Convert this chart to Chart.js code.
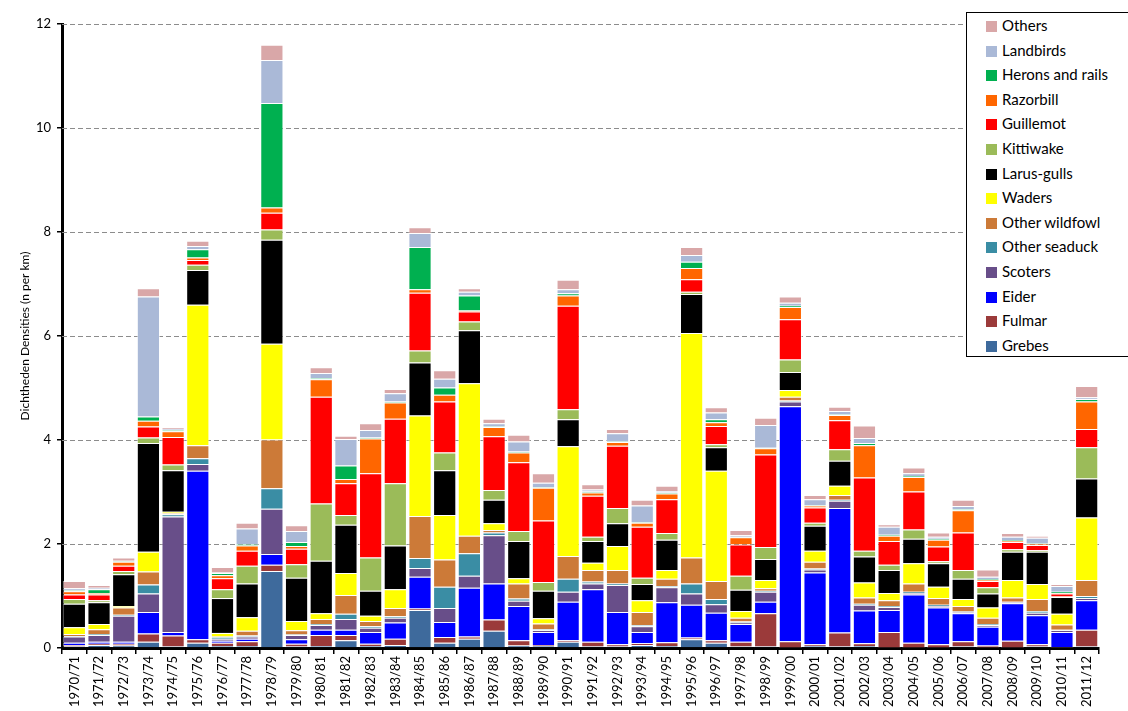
<!DOCTYPE html>
<html>
<head>
<meta charset="utf-8">
<script src="https://cdn.jsdelivr.net/npm/chart.js@4/dist/chart.umd.min.js"></script>
<style>
  html, body { margin: 0; padding: 0; background: #fff; }
  #wrap { position: relative; width: 1128px; height: 711px; }
  #legend {
    position: absolute; left: 966px; top: 12px; width: 162px; height: 345px;
    box-sizing: border-box; border: 1px solid #000; border-right: none; background: #fff;
    font-family: Lato, "Open Sans", sans-serif; font-size: 15px; color: #000;
    padding-top: 0;
  }
  #legend div { height: 24.6px; line-height: 24.6px; white-space: nowrap; }
  #legend span {
    display: inline-block; width: 11px; height: 11px; margin: 0 5px 0 19px; vertical-align: -1px;
  }
</style>
</head>
<body>
<div id="wrap">
  <canvas id="chart" width="1128" height="711"></canvas>
  <div id="legend"></div>
</div>
<script>
const seasons = ["1970/71","1971/72","1972/73","1973/74","1974/75","1975/76","1976/77","1977/78","1978/79","1979/80",
  "1980/81","1981/82","1982/83","1983/84","1984/85","1985/86","1986/87","1987/88","1988/89","1989/90",
  "1990/91","1991/92","1992/93","1993/94","1994/95","1995/96","1996/97","1997/98","1998/99","1999/00",
  "2000/01","2001/02","2002/03","2003/04","2004/05","2005/06","2006/07","2007/08","2008/09","2009/10",
  "2010/11","2011/12"];

// densities (n per km) per species group, one value per season
const grebes = [.03,.06,.05,.12,.03,.10,.04,.04,1.48,.03, .04,.15,.04,.06,.73,.10,.18,.33,.05,.04,
  .12,.03,.03,.06,.04,.17,.10,.03,.03,.01, .04,.03,.04,.01,.01,.01,.03,.01,.01,.03, .01,.03];
const fulmar = [.03,.02,.03,.16,.21,.07,.06,.09,.12,.05, .21,.10,.04,.12,.03,.11,.04,.22,.10,.02,
  .03,.09,.04,.03,.07,.03,.05,.09,.64,.12, .03,.27,.05,.30,.09,.06,.10,.04,.13,.04, .01,.32];
const eider = [.04,.04,.04,.41,.07,3.24,.04,.05,.21,.09, .10,.10,.23,.31,.61,.29,.94,.69,.66,.25,
  .74,1.01,.62,.22,.77,.63,.53,.34,.22,4.52, 1.38,2.39,.63,.42,.93,.71,.54,.36,.72,.56, .29,.57];
const scoters = [.12,.13,.50,.36,2.22,.13,.04,.04,.87,.08, .09,.21,.08,.09,.17,.27,.23,.93,.10,.03,
  .19,.11,.52,.11,.29,.22,.16,.03,.19,.09, .06,.14,.11,.06,.03,.03,.02,.03,.02,.05, .03,.04];
const otherSeaduck = [.01,.02,.02,.17,.04,.11,.03,.02,.39,.01, .02,.10,.03,.03,.19,.41,.43,.05,.04,.02,
  .25,.04,.03,.02,.02,.19,.10,.02,.02,.02, .02,.02,.02,.02,.02,.02,.01,.02,.01,.03, .01,.04];
const otherWildfowl = [.04,.09,.14,.25,.02,.25,.01,.09,.94,.08, .10,.36,.10,.16,.81,.52,.34,.05,.29,.11,
  .44,.22,.26,.25,.14,.50,.35,.07,.05,.07, .13,.09,.12,.11,.16,.13,.11,.12,.08,.23, .10,.31];
const waders = [.13,.10,.03,.38,.03,2.70,.07,.26,1.84,.18, .11,.42,.10,.36,1.93,.86,2.93,.13,.10,.10,
  2.11,.14,.46,.23,.17,4.32,2.12,.13,.16,.13, .21,.18,.29,.14,.39,.22,.13,.20,.34,.29, .21,1.20];
const larusGulls = [.45,.42,.61,2.09,.80,.67,.67,.65,2.00,.83, 1.01,.93,.48,.84,1.02,.86,1.02,.45,.72,.53,
  .52,.42,.44,.31,.58,.75,.45,.41,.40,.35, .48,.48,.50,.44,.47,.45,.39,.27,.54,.62, .32,.75];
const kittiwake = [.09,.04,.06,.11,.11,.10,.17,.34,.20,.26, 1.10,.19,.64,1.20,.23,.34,.17,.19,.19,.17,
  .19,.08,.29,.12,.13,.04,.06,.27,.23,.24, .06,.22,.11,.10,.18,.04,.17,.12,.05,.03, .01,.60];
const guillemot = [.09,.11,.10,.21,.53,.09,.21,.29,.32,.30, 2.05,.61,1.62,1.24,1.11,.98,.19,1.03,1.32,1.18,
  1.99,.79,1.20,.98,.65,.24,.35,.60,1.78,.77, .29,.56,1.41,.46,.73,.28,.72,.12,.14,.10, .06,.35];
const razorbill = [.06,.03,.08,.11,.11,.05,.06,.10,.10,.05, .34,.08,.67,.31,.07,.13,.02,.18,.19,.63,
  .20,.06,.07,.08,.11,.22,.07,.14,.12,.24, .04,.10,.62,.10,.28,.13,.43,.02,.02,.02, .01,.53];
const heronsRails = [.02,.07,.01,.08,.02,.16,.04,.03,2.01,.08, .02,.26,.02,.02,.81,.14,.29,.01,.02,.01,
  .04,.02,.01,.01,.02,.12,.06,.01,.01,.02, .01,.01,.04,.02,.02,.02,.02,.01,.01,.01, .02,.05];
const landbirds = [.04,.03,.01,2.31,.02,.06,.01,.30,.83,.21, .10,.51,.14,.16,.27,.17,.07,.06,.19,.09,
  .08,.04,.16,.32,.03,.13,.13,.03,.44,.06, .11,.07,.10,.15,.05,.04,.06,.05,.07,.11, .11,.03];
const others = [.14,.05,.06,.16,.03,.10,.11,.11,.29,.11, .11,.06,.13,.08,.11,.16,.07,.09,.13,.18,
  .18,.10,.08,.11,.10,.15,.10,.10,.14,.12, .08,.08,.24,.05,.11,.08,.12,.14,.07,.04, .04,.22];

const yTicks = [0, 2, 4, 6, 8, 10, 12];

const series = [
  { label: "Grebes", data: grebes, color: "#3E6A9C" },
  { label: "Fulmar", data: fulmar, color: "#9B3A3A" },
  { label: "Eider", data: eider, color: "#0000FF" },
  { label: "Scoters", data: scoters, color: "#684E89" },
  { label: "Other seaduck", data: otherSeaduck, color: "#3A8DA4" },
  { label: "Other wildfowl", data: otherWildfowl, color: "#CC7A38" },
  { label: "Waders", data: waders, color: "#FFFF00" },
  { label: "Larus-gulls", data: larusGulls, color: "#000000" },
  { label: "Kittiwake", data: kittiwake, color: "#9BBB59" },
  { label: "Guillemot", data: guillemot, color: "#FF0000" },
  { label: "Razorbill", data: razorbill, color: "#FF6600" },
  { label: "Herons and rails", data: heronsRails, color: "#00B050" },
  { label: "Landbirds", data: landbirds, color: "#AAB9D7" },
  { label: "Others", data: others, color: "#D9A7A8" }
];

const font = "Lato, 'Open Sans', sans-serif";

const chart = new Chart(document.getElementById("chart"), {
  type: "bar",
  data: {
    labels: seasons,
    datasets: series.map(s => ({
      label: s.label,
      data: s.data,
      backgroundColor: s.color,
      borderColor: "rgba(255,255,255,0.55)",
      borderWidth: 1,
      barPercentage: 0.94,
      categoryPercentage: 1.0
    }))
  },
  options: {
    responsive: false,
    animation: false,
    layout: { padding: { top: 24, right: 29, left: 18, bottom: 0 } },
    plugins: { legend: { display: false }, tooltip: { enabled: false } },
    scales: {
      x: {
        stacked: true,
        border: { color: "#000", width: 3 },
        grid: { display: true, drawOnChartArea: false, offset: true, color: "#000", lineWidth: 1.5, tickLength: 6 },
        ticks: { color: "#000", font: { family: font, size: 13 }, minRotation: 90, maxRotation: 90, autoSkip: false, padding: 2 },
        afterFit: s => { s.height = 63; }
      },
      y: {
        stacked: true,
        min: 0,
        max: 12,
        border: { color: "#000", width: 3 },
        grid: { drawOnChartArea: false, color: "#000", lineWidth: 1.5, tickLength: 5 },
        ticks: {
          stepSize: 2, color: "#000", font: { family: font, size: 13 }, padding: 6,
          callback: v => yTicks.includes(v) ? String(v) : ""
        },
        title: { display: true, text: "Dichtheden Densities (n per km)", color: "#000", font: { family: font, size: 12 }, padding: 0 },
        afterFit: s => { s.width = 44; }
      }
    }
  },
  plugins: [{
    // dashed horizontal gridlines
    id: "dashGrid",
    beforeDatasetsDraw(c) {
      const { ctx, chartArea, scales } = c;
      ctx.save();
      ctx.strokeStyle = "#8c8c8c";
      ctx.lineWidth = 1;
      ctx.setLineDash([5, 3]);
      yTicks.forEach(t => {
        if (t === 0) return;
        const y = Math.round(scales.y.getPixelForValue(t)) + 0.5;
        ctx.beginPath();
        ctx.moveTo(chartArea.left, y);
        ctx.lineTo(chartArea.right, y);
        ctx.stroke();
      });
      ctx.restore();
    }
  }]
});

const legend = document.getElementById("legend");
chart.data.datasets.slice().reverse().forEach(ds => {
  const row = document.createElement("div");
  row.innerHTML = '<span style="background:' + ds.backgroundColor + '"></span>' + ds.label;
  legend.appendChild(row);
});
</script>
</body>
</html>
